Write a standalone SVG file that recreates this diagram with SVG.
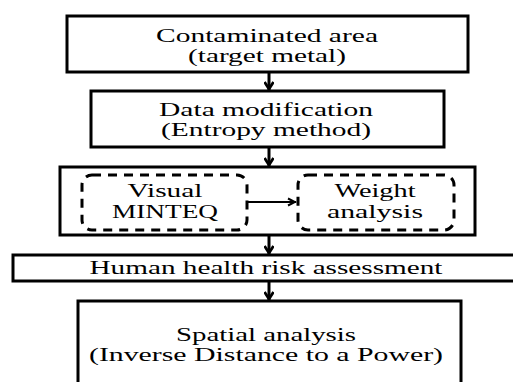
<svg xmlns="http://www.w3.org/2000/svg" width="513" height="382" viewBox="0 0 513 382">
<style>
.box{fill:#fff;stroke:#000;stroke-width:3}
.dash{fill:none;stroke:#000;stroke-width:3;stroke-dasharray:9 7}
.t{font-family:"Liberation Serif","Times New Roman",serif;font-size:18px;fill:#000;text-anchor:middle}
.c{stroke:#000;stroke-width:3;fill:none}
</style>
<defs>
<marker id="ah" viewBox="0 0 12 10" refX="11" refY="5" markerWidth="12" markerHeight="10" markerUnits="userSpaceOnUse" orient="auto">
<polyline points="3,0.5 10,5 3,9.5" fill="none" stroke="#000" stroke-width="2.8"/>
</marker>
<marker id="ah2" viewBox="0 0 12 10" refX="11" refY="5" markerWidth="12" markerHeight="10" markerUnits="userSpaceOnUse" orient="auto">
<polyline points="3,1.5 10,5 3,8.5" fill="none" stroke="#000" stroke-width="2"/>
</marker>
</defs>
<rect width="513" height="382" fill="#fff"/>
<g id="n1">
<rect class="box" x="67" y="16" width="401" height="56"/>
<text class="t" x="267" y="42" textLength="222" lengthAdjust="spacingAndGlyphs">Contaminated area</text>
<text class="t" x="267" y="62" textLength="158" lengthAdjust="spacingAndGlyphs">(target metal)</text>
</g>
<g id="n2">
<rect class="box" x="91" y="91" width="353" height="56"/>
<text class="t" x="266" y="116" textLength="214" lengthAdjust="spacingAndGlyphs">Data modification</text>
<text class="t" x="266" y="136" textLength="210" lengthAdjust="spacingAndGlyphs">(Entropy method)</text>
</g>
<g id="n3">
<rect class="box" x="60" y="167" width="415" height="68"/>
</g>
<g id="n3a">
<rect class="dash" x="82" y="175" width="165" height="55" rx="10"/>
<text class="t" x="165" y="197" textLength="75" lengthAdjust="spacingAndGlyphs">Visual</text>
<text class="t" x="165" y="218" textLength="106" lengthAdjust="spacingAndGlyphs">MINTEQ</text>
</g>
<g id="n3b">
<rect class="dash" x="298" y="175" width="156" height="55" rx="10"/>
<text class="t" x="375" y="197" textLength="81" lengthAdjust="spacingAndGlyphs">Weight</text>
<text class="t" x="375" y="218" textLength="96" lengthAdjust="spacingAndGlyphs">analysis</text>
</g>
<g id="n4">
<rect class="box" x="13" y="255" width="510" height="26"/>
<text class="t" x="266" y="274" textLength="353" lengthAdjust="spacingAndGlyphs">Human health risk assessment</text>
</g>
<g id="n5">
<rect class="box" x="78" y="301" width="383" height="100"/>
<text class="t" x="266" y="341" textLength="180" lengthAdjust="spacingAndGlyphs">Spatial analysis</text>
<text class="t" x="266" y="361" textLength="354" lengthAdjust="spacingAndGlyphs">(Inverse Distance to a Power)</text>
</g>
<g id="connectors">
<line class="c" x1="269" y1="72" x2="269" y2="90" marker-end="url(#ah)"/>
<line class="c" x1="269" y1="147" x2="269" y2="166" marker-end="url(#ah)"/>
<line class="c" x1="269" y1="235" x2="269" y2="254" marker-end="url(#ah)"/>
<line class="c" x1="269" y1="281" x2="269" y2="300" marker-end="url(#ah)"/>
<line x1="247" y1="202" x2="296" y2="202" stroke="#000" stroke-width="2" marker-end="url(#ah2)"/>
</g>
</svg>
